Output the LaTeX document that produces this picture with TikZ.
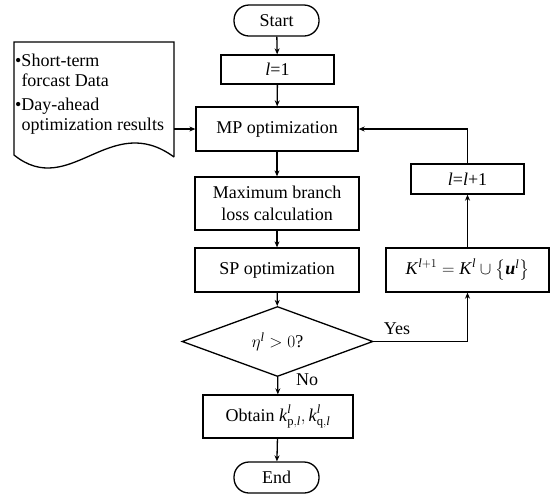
\documentclass[tikz,border=0pt]{standalone}
\usepackage{amsmath}
\usepackage{fontspec}
\setmainfont{Liberation Serif}
\usetikzlibrary{shapes.geometric,arrows.meta}
\newcommand{\myl}{\text{\textit{l}}}
\newcommand{\myK}{\text{\textit{K}}}
\newcommand{\myk}{\text{\textit{k}}}
\newcommand{\myu}{\text{\textbf{\textit{u}}}}
\begin{document}
\begin{tikzpicture}[x=1pt,y=-1pt,
  every node/.style={font=\fontsize{18}{20}\selectfont},
  box/.style={draw,line width=1.3pt,inner sep=0pt,align=center},
  term/.style={box,rounded corners=15pt,minimum width=85pt,minimum height=31pt},
  dec/.style={draw,line width=1.3pt,shape=diamond,inner sep=0pt,minimum width=191pt,minimum height=57pt},
  arr/.style={line width=1.3pt,-{Stealth[length=6pt,width=5pt]}},
  lbl/.style={inner sep=0pt}]
\useasboundingbox (0,0) rectangle (559,499);
% nodes
\node[term] (start) at (276.5,20.5) {Start};
\node[box,minimum width=113pt,minimum height=29pt] (init) at (277.5,69.5) {\textit{l}=1};
\node[box,minimum width=162pt,minimum height=44pt] (mp) at (277,129) {MP optimization};
\node[box,minimum width=164pt,minimum height=53pt,font=\fontsize{18}{22}\selectfont] (maxb) at (277,203.5) {Maximum branch\\loss calculation};
\node[box,minimum width=164pt,minimum height=44pt] (sp) at (277,270) {SP optimization};
\node[dec] (dec) at (277.5,341.5) {$\eta^{\myl}>0$?};
\node[box,minimum width=150pt,minimum height=43pt] (obt) at (278,416.5) {Obtain $\myk^{\myl}_{\mathrm{p},\myl},\myk^{\myl}_{\mathrm{q},\myl}$};
\node[term] (end) at (276.5,477.5) {End};
\node[box,minimum width=113pt,minimum height=30pt] (inc) at (467.5,179) {\textit{l}=\textit{l}+1};
\node[box,minimum width=163pt,minimum height=44pt] (kset) at (467.5,270) {$\myK^{\myl+1}=\myK^{\myl}\cup\left\{\myu^{\myl}\right\}$};
% document shape
\draw[line width=1.3pt] (174,157) -- (174,42) -- (14,42) -- (14,155)
  .. controls (70,200) and (110,110) .. (174,157);
\node[anchor=north west,inner sep=0pt] (data) at (15,52)
  {\begin{tabular}{@{}l@{}l@{}}•&Short-term\\ &forcast Data\\[4pt] •&Day-ahead\\ &optimization results\end{tabular}};
\coordinate (docR) at (174,129);
\coordinate (loopTop) at (467.5,129);
\coordinate (yesC) at (467.5,341.5);
% connectors
\draw[arr] (start) -- (init);
\draw[arr] (init) -- (mp);
\draw[arr] (mp) -- (maxb);
\draw[arr] (maxb) -- (sp);
\draw[arr] (sp) -- (dec);
\draw[arr] (dec) -- (obt);
\draw[arr] (obt) -- (end);
\draw[arr] (docR) -- (mp.west);
\draw[arr] (dec.east) -- (yesC) -- (kset);
\draw[arr] (kset) -- (inc);
\draw[arr] (inc) -- (loopTop) -- (mp.east);
\node[lbl] (yes) at (397,329) {Yes};
\node[lbl] (no) at (307,380) {No};
\end{tikzpicture}
\end{document}
